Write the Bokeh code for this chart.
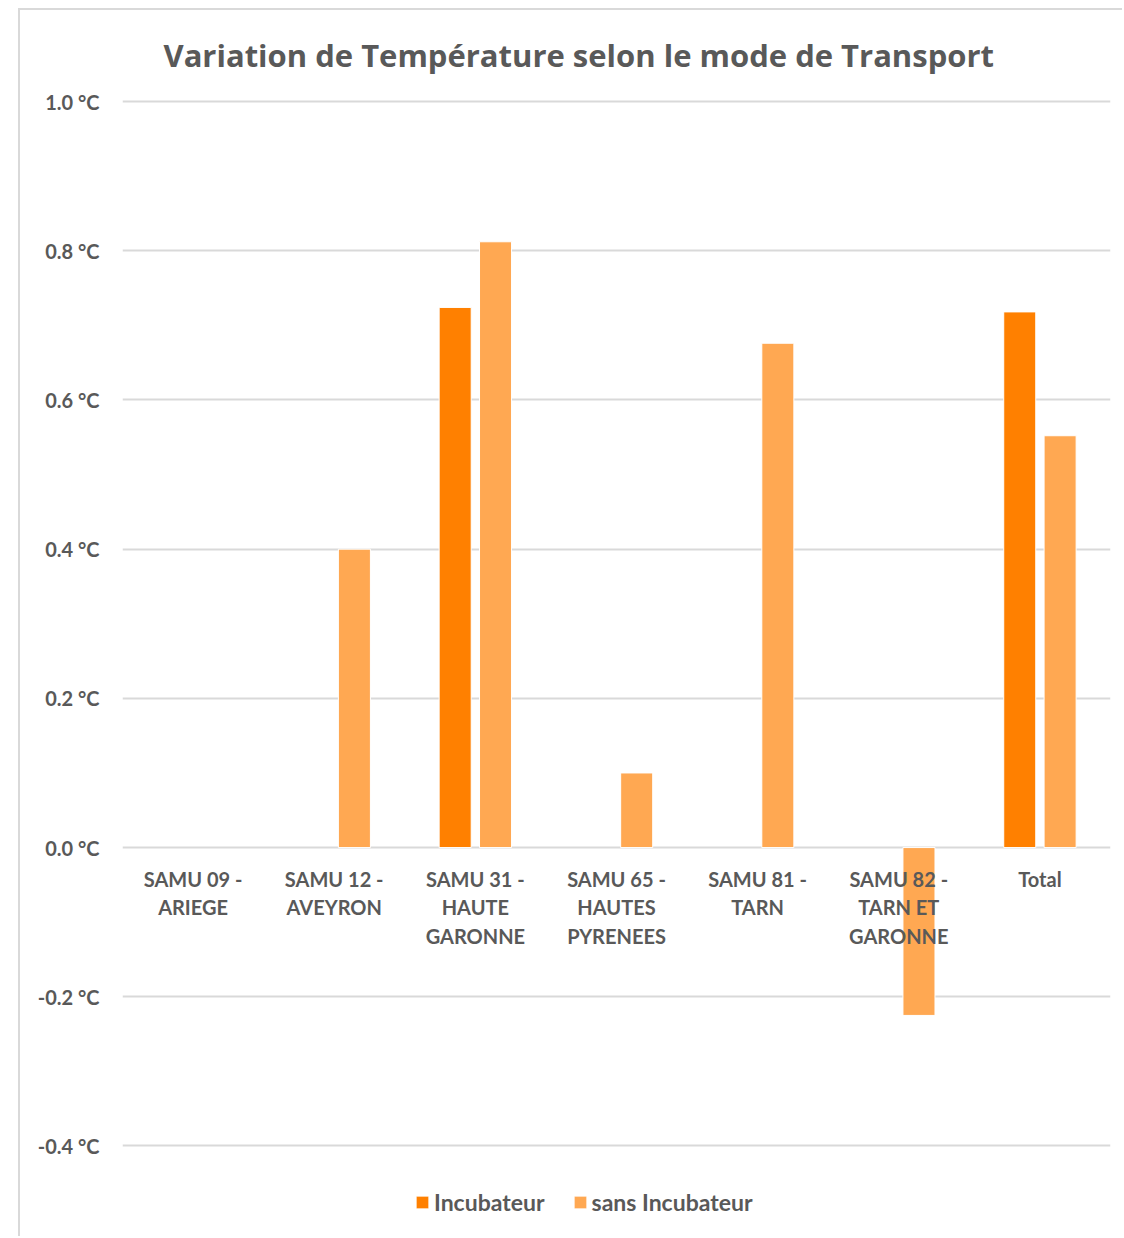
from bokeh.plotting import figure
from bokeh.models import Range1d, FactorRange, FixedTicker, PrintfTickFormatter, Legend, LegendItem, ColumnDataSource
from bokeh.transform import dodge
from bokeh.embed import file_html
from bokeh.resources import INLINE

categories = ["SAMU 09 -\nARIEGE", "SAMU 12 -\nAVEYRON", "SAMU 31 -\nHAUTE\nGARONNE",
              "SAMU 65 -\nHAUTES\nPYRENEES", "SAMU 81 -\nTARN", "SAMU 82 -\nTARN ET\nGARONNE", "Total"]
incubateur = [float("nan"), float("nan"), 0.724, float("nan"), float("nan"), float("nan"), 0.718]
sans_incubateur = [float("nan"), 0.40, 0.812, 0.10, 0.676, -0.225, 0.552]
y_ticks = [-0.4, -0.2, 0.0, 0.2, 0.4, 0.6, 0.8, 1.0]

FONT = "Lato"
GRAY = "#595959"

src = ColumnDataSource(dict(cat=categories, inc=incubateur, sans=sans_incubateur))

p = figure(x_range=FactorRange(*categories), y_range=Range1d(-0.524, 1.0027),
           width=1104, height=1228, output_backend="svg", toolbar_location=None,
           min_border_left=102, min_border_right=14, min_border_top=89, min_border_bottom=0)
p.styles = {"margin-left": "18px", "margin-top": "8px",
            "border-left": "2px solid #D9D9D9", "border-top": "2px solid #D9D9D9"}

r1 = p.vbar(x=dodge("cat", -0.143, range=p.x_range), top="inc", width=0.227, source=src,
            fill_color="#FF8000", line_color="white", line_width=1)
r2 = p.vbar(x=dodge("cat", 0.143, range=p.x_range), top="sans", width=0.227, source=src,
            fill_color="#FFA852", line_color="white", line_width=1)

p.title.text = "Variation de Température selon le  mode de Transport"
p.title.text_font = "Open Sans"
p.title.text_font_size = "31px"
p.title.text_font_style = "bold"
p.title.text_color = GRAY
p.title.align = "left"
p.title.offset = 41
p.title.standoff = 44
p.title.vertical_align = "top"

p.outline_line_color = None
p.xgrid.grid_line_color = None
p.ygrid.grid_line_color = "#D9D9D9"
p.ygrid.grid_line_width = 2
p.ygrid.ticker = FixedTicker(ticks=y_ticks)

p.yaxis.ticker = FixedTicker(ticks=y_ticks)
p.yaxis.formatter = PrintfTickFormatter(format="%.1f °C")
p.yaxis.axis_line_color = None
p.yaxis.major_tick_line_color = None
p.yaxis.minor_tick_line_color = None
p.yaxis.major_label_text_font = FONT
p.yaxis.major_label_text_font_size = "20px"
p.yaxis.major_label_text_font_style = "bold"
p.yaxis.major_label_text_color = GRAY
p.yaxis.major_label_standoff = 17

p.xaxis.fixed_location = 0
p.xaxis.axis_line_color = None
p.xaxis.major_tick_line_color = None
p.xaxis.minor_tick_line_color = None
p.xaxis.major_label_text_font = FONT
p.xaxis.major_label_text_font_size = "20px"
p.xaxis.major_label_text_font_style = "bold"
p.xaxis.major_label_text_color = GRAY
p.xaxis.major_label_standoff = 13

legend = Legend(items=[LegendItem(label="Incubateur", renderers=[r1]),
                       LegendItem(label="sans Incubateur", renderers=[r2])],
                orientation="horizontal", location=(292, 22),
                label_text_font=FONT, label_text_font_size="23px", label_text_font_style="bold",
                label_text_color=GRAY, glyph_width=16, glyph_height=16, label_standoff=4,
                label_height=26, spacing=27, padding=0, margin=0,
                border_line_color=None, background_fill_alpha=0)
p.add_layout(legend, "center")

open("out.html", "w").write(file_html(p, INLINE))
